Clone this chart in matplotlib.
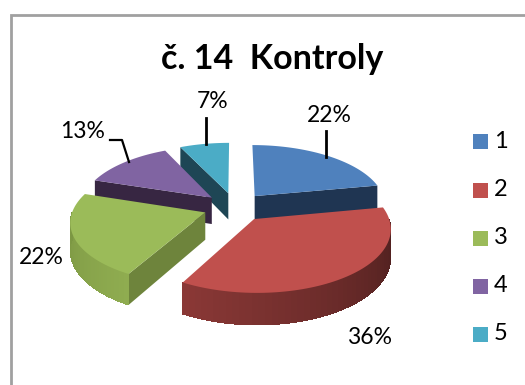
import numpy as np
from matplotlib import pyplot as plt
from matplotlib.patches import Polygon, Rectangle

plt.rcParams['font.family'] = ['Lato', 'DejaVu Sans']

# chart data
categories = ['1', '2', '3', '4', '5']
values = [22, 36, 22, 13, 7]
title = 'č. 14  Kontroly'

top_colors = ['#4F81BD', '#C0504D', '#9BBB59', '#8064A2', '#4BACC6']
edge_colors = ['#1F3552', '#4A1E1D', '#6E843C', '#372642', '#1E4655']
rim_colors = [None, ('#4A1E1D', '#8A3836'), ('#8FAC50', '#7C9743'), None, None]

# fake 3d view of the pie, in pixels
cx, cy = 235, 207
rx, ry = 131.6, 60.5
persp = 0.133
explode = 0.24
depth = 27


def project(X, Y, drop=0):
    s = 1 / (1 + persp * Y)
    return cx + rx * X * s, cy - ry * Y * s + drop * s


def blend(c1, c2, t):
    a = np.array(plt.matplotlib.colors.to_rgb(c1))
    b = np.array(plt.matplotlib.colors.to_rgb(c2))
    return tuple(a + (b - a) * t)


fig = plt.figure(figsize=(5.25, 3.85), dpi=100)
ax = fig.add_axes([0, 0, 1, 1])
ax.set_xlim(0, 525)
ax.set_ylim(385, 0)
ax.axis('off')

# chart frame, cut by the picture on the right and bottom
ax.plot([10.5, 10.5, 525], [385, 14.5, 14.5], color='#A0A0A0', lw=2, solid_joinstyle='miter')

edges = np.cumsum([0] + values) / sum(values) * 2 * np.pi
draw_order = [4, 3, 0, 2, 1]

for i in draw_order:
    a0, a1 = edges[i], edges[i + 1]
    mid = (a0 + a1) / 2
    ox, oy = explode * np.sin(mid), explode * np.cos(mid)
    t = np.linspace(a0, a1, 80)
    X = ox + np.sin(t)
    Y = oy + np.cos(t)

    # flat cut face at the start or end of the slice, whichever looks at us
    face = a1 if i == 0 else a0
    if i != 1:
        fx = [ox, ox + np.sin(face)]
        fy = [oy, oy + np.cos(face)]
        x1, y1 = project(np.array(fx), np.array(fy))
        x2, y2 = project(np.array(fx), np.array(fy), depth)
        pts = np.column_stack([np.r_[x1, x2[::-1]], np.r_[y1, y2[::-1]]])
        ax.add_patch(Polygon(pts, color=edge_colors[i], lw=0))

    # outer rim, shaded strip by strip; strips overlap so no seams show
    if rim_colors[i] is not None:
        lo = max(a0, np.pi / 2)
        hi = min(a1, 3 * np.pi / 2)
        steps = np.linspace(lo, hi, 50)
        order = range(len(steps) - 1)
        for k in order:
            s = steps[k:k + 3]
            sx, sy = ox + np.sin(s), oy + np.cos(s)
            x1, y1 = project(sx, sy)
            x2, y2 = project(sx, sy, depth)
            pts = np.column_stack([np.r_[x1, x2[::-1]], np.r_[y1, y2[::-1]]])
            c = blend(rim_colors[i][0], rim_colors[i][1], k / (len(steps) - 2))
            ax.add_patch(Polygon(pts, facecolor=c, edgecolor='none', lw=0, antialiased=False))

    # top of the slice
    x, y = project(np.r_[ox, X], np.r_[oy, Y])
    ax.add_patch(Polygon(np.column_stack([x, y]), color=top_colors[i], lw=0))

# percent labels and leader lines
label_pos = [(329, 116), (370, 338), (41, 257), (83, 132), (213, 102)]
for v, (lx, ly) in zip(values, label_pos):
    ax.text(lx, ly, f'{v}%', fontsize=16.5, ha='center', va='center', color='black')

ax.plot([326, 326], [131, 157], color='black', lw=2)
ax.plot([205.5, 205.5], [118, 144], color='black', lw=2)
ax.plot([110, 122, 129], [140, 140, 162], color='black', lw=1.6)

ax.text(272, 59, title, fontsize=24.5, fontweight='bold', ha='center', va='center', color='black')

# legend
legend_y = [141, 190, 238, 286, 334]
for name, col, ly in zip(categories, top_colors, legend_y):
    ax.add_patch(Rectangle((473, ly - 7.5), 15, 15, color=col, lw=0))
    ax.text(494, ly, name, fontsize=17, ha='left', va='center', color='black')

fig.savefig('out.png', dpi=100)
